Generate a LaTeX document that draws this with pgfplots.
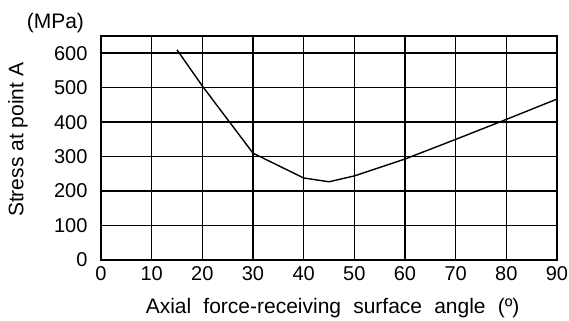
\documentclass[border=0pt]{standalone}
\usepackage{fontspec}
\setmainfont{Liberation Sans}
\usepackage{pgfplots}
\pgfplotsset{compat=1.18}
\newcommand{\tickf}{\fontsize{20bp}{24bp}\selectfont}
\newcommand{\labf}{\fontsize{21bp}{25bp}\selectfont}
\newcommand{\wsp}{\hspace{0.3em}\ }
\begin{document}
\begin{tikzpicture}
\begin{axis}[
  at={(0,0)}, anchor=south west,
  scale only axis, width=456bp, height=224bp,
  xmin=0, xmax=90, ymin=0, ymax=650,
  xtick={0,10,...,90}, ytick={0,100,...,600},
  grid=major,
  major grid style={black, line width=1.6pt},
  axis line style={black, line width=1.6pt},
  tick style={draw=none},
  /pgf/number format/assume math mode=true,
  ticklabel style={font=\tickf},
  label style={font=\labf},
  yticklabel style={xshift=-10bp},
  xticklabel style={yshift=-3bp},
  xlabel={Axial\wsp force-receiving\wsp surface\wsp angle\wsp (º)},
  xlabel style={at={(axis description cs:0.508,-0.215)}, anchor=center},
  ylabel={Stress at point A},
  ylabel style={at={(axis description cs:-0.182,0.536)}, anchor=center, rotate=0},
  clip=false,
]
\addplot[black, line width=1.4pt] coordinates {
  (15,610) (20,505) (30,310) (40,238) (45,227) (50,244) (60,293) (70,350) (80,408) (90,467)
};
\node[anchor=center, font=\labf] at (axis description cs:-0.1,1.058) {(MPa)};
\end{axis}
\pgfresetboundingbox
\path[use as bounding box] (-101bp,-61bp) rectangle (468bp,260bp);
\end{tikzpicture}
\end{document}
